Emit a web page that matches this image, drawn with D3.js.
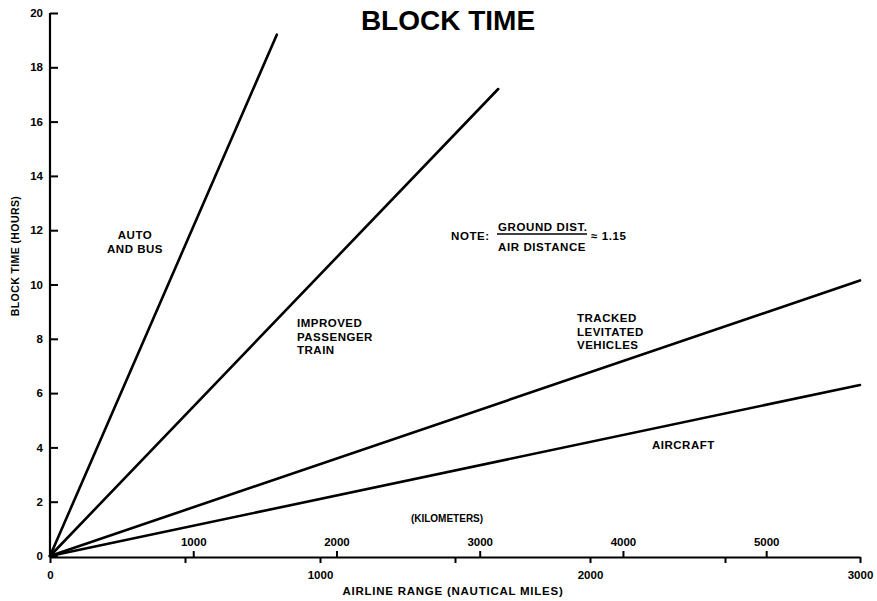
<!DOCTYPE html>
<html>
<head>
<meta charset="utf-8">
<script src="https://cdn.jsdelivr.net/npm/d3@7"></script>
<style>
  body { margin: 0; background: #fff; }
  svg text { font-family: "Liberation Sans", Arial, Helvetica, sans-serif; font-weight: bold; fill: #000; }
</style>
</head>
<body>
<div id="chart"></div>
<script>
// values
const hourTicks = [0, 2, 4, 6, 8, 10, 12, 14, 16, 18, 20];
const nmTicks = [0, 500, 1000, 1500, 2000, 2500, 3000];
const nmLabels = [0, 1000, 2000, 3000];
const kmTicks = [1000, 2000, 3000, 4000, 5000];
const kmPerNm = 1.885; // as drawn on the chart's second scale

const modes = ['AUTO AND BUS', 'IMPROVED PASSENGER TRAIN', 'TRACKED LEVITATED VEHICLES', 'AIRCRAFT'];
const rangeNm = [[0, 840], [0, 1660], [0, 3000], [0, 3000]];
const blockHours = [[0, 19.2], [0, 17.2], [0, 10.15], [0, 6.3]];

const W = 877, H = 601;
const svg = d3.select('#chart').append('svg')
    .attr('width', W)
    .attr('height', H);

const x = d3.scaleLinear().domain([0, 3000]).range([50, 860]);
const xKm = d3.scaleLinear().domain([0, 3000 * kmPerNm]).range([50, 860]);
const y = d3.scaleLinear().domain([0, 20]).range([556, 13]);
const axisY = 557;

// title
svg.append('text')
    .attr('x', 448)
    .attr('y', 30)
    .attr('text-anchor', 'middle')
    .style('font-size', '28px')
    .text('BLOCK TIME');

const tickFont = sel => sel.style('font-size', '11.5px')
    .style('font-family', '"Liberation Sans", Arial, sans-serif')
    .style('font-weight', 'bold');

// y axis
const yAxis = svg.append('g')
    .attr('transform', 'translate(50,0)')
    .call(d3.axisLeft(y).tickValues(hourTicks).tickSizeInner(-8).tickSizeOuter(0).tickPadding(7).tickFormat(d3.format('d')));
yAxis.select('.domain').attr('stroke-width', 2.2).attr('d', `M0,${y(20)}V${axisY}`);
yAxis.selectAll('.tick line').attr('stroke-width', 2);
yAxis.selectAll('.tick text').call(tickFont);

svg.append('text')
    .attr('transform', 'translate(19,256) rotate(-90)')
    .attr('text-anchor', 'middle')
    .style('font-size', '10.5px')
    .style('letter-spacing', '0.4px')
    .text('BLOCK TIME (HOURS)');

// x axis, nautical miles
const xAxis = svg.append('g')
    .attr('transform', `translate(0,${axisY})`)
    .call(d3.axisBottom(x).tickValues(nmTicks).tickSizeInner(6).tickSizeOuter(0).tickPadding(8)
        .tickFormat(d => nmLabels.includes(d) ? d : ''));
xAxis.select('.domain').attr('stroke-width', 2.2);
xAxis.selectAll('.tick line').attr('stroke-width', 2);
xAxis.selectAll('.tick text').call(tickFont);

// kilometer scale on top of the same line
const kmAxis = svg.append('g')
    .attr('transform', `translate(0,${axisY})`)
    .call(d3.axisTop(xKm).tickValues(kmTicks).tickSizeInner(6).tickSizeOuter(0).tickPadding(5).tickFormat(d3.format('d')));
kmAxis.select('.domain').remove();
kmAxis.selectAll('.tick line').attr('stroke-width', 2);
kmAxis.selectAll('.tick text').call(tickFont);

svg.append('text')
    .attr('x', 447)
    .attr('y', 522)
    .attr('text-anchor', 'middle')
    .style('font-size', '10px')
    .text('(KILOMETERS)');

svg.append('text')
    .attr('x', 453)
    .attr('y', 595)
    .attr('text-anchor', 'middle')
    .style('font-size', '11.5px')
    .style('letter-spacing', '0.75px')
    .text('AIRLINE RANGE (NAUTICAL MILES)');

// mode lines
const line = d3.line().x(d => x(d[0])).y(d => y(d[1]));
svg.append('g')
    .selectAll('path')
    .data(modes.map((m, i) => rangeNm[i].map((r, j) => [r, blockHours[i][j]])))
    .enter().append('path')
    .attr('d', line)
    .attr('fill', 'none')
    .attr('stroke', '#000')
    .attr('stroke-width', 2.6)
    .attr('stroke-linecap', 'round');

// line labels
const labelPos = [
    {x: 135, y: 239, anchor: 'middle', lines: ['AUTO', 'AND BUS']},
    {x: 297, y: 327, anchor: 'start', lines: ['IMPROVED', 'PASSENGER', 'TRAIN']},
    {x: 577, y: 322, anchor: 'start', lines: ['TRACKED', 'LEVITATED', 'VEHICLES']},
    {x: 652, y: 449, anchor: 'start', lines: ['AIRCRAFT']}
];
labelPos.forEach(p => {
    const t = svg.append('text')
        .attr('x', p.x)
        .attr('y', p.y)
        .attr('text-anchor', p.anchor)
        .style('font-size', '11.5px')
        .style('letter-spacing', '0.5px');
    p.lines.forEach((s, i) => {
        t.append('tspan').attr('x', p.x).attr('dy', i ? 13.5 : 0).text(s);
    });
});

// note
const note = sel => sel.style('font-size', '11.5px').style('letter-spacing', '0.6px');
svg.append('text').attr('x', 451).attr('y', 240).call(note).text('NOTE:');
svg.append('text').attr('x', 498).attr('y', 231).call(note).text('GROUND DIST.');
svg.append('line').attr('x1', 497).attr('x2', 587).attr('y1', 234).attr('y2', 234)
    .attr('stroke', '#000').attr('stroke-width', 1.5);
svg.append('text').attr('x', 498).attr('y', 251).call(note).text('AIR DISTANCE');
svg.append('text').attr('x', 591).attr('y', 240).call(note).text('\u2248 1.15');
</script>
</body>
</html>
